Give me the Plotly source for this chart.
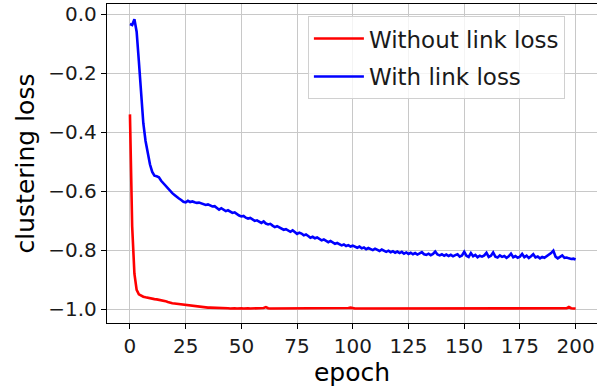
import plotly.graph_objects as go

epochs = list(range(201))

without_link = [
    -0.340, -0.720, -0.880, -0.935, -0.950, -0.955, -0.958, -0.960, -0.962, -0.963,
    -0.964, -0.966, -0.967, -0.968, -0.970, -0.971, -0.973, -0.976, -0.979, -0.980,
    -0.981, -0.982, -0.983, -0.984, -0.984, -0.986, -0.987, -0.988, -0.990, -0.991,
    -0.992, -0.991, -0.993, -0.994, -0.994, -0.995, -0.995, -0.995, -0.996, -0.996,
    -0.997, -0.997, -0.996, -0.997, -0.997, -0.998, -0.997, -0.997, -0.998, -0.997,
    -0.997, -0.998, -0.997, -0.997, -0.998, -0.998, -0.997, -0.998, -0.997, -0.997,
    -0.996, -0.993, -0.997, -0.998, -0.998, -0.997, -0.998, -0.998, -0.997, -0.998,
    -0.998, -0.998, -0.997, -0.998, -0.998, -0.998, -0.997, -0.998, -0.998, -0.998,
    -0.998, -0.997, -0.998, -0.998, -0.998, -0.998, -0.997, -0.998, -0.998, -0.998,
    -0.998, -0.998, -0.997, -0.998, -0.998, -0.998, -0.998, -0.997, -0.996, -0.995,
    -0.997, -0.998, -0.998, -0.998, -0.997, -0.998, -0.998, -0.998, -0.998, -0.998,
    -0.997, -0.998, -0.998, -0.998, -0.998, -0.998, -0.997, -0.998, -0.998, -0.998,
    -0.998, -0.998, -0.998, -0.997, -0.998, -0.998, -0.998, -0.998, -0.998, -0.998,
    -0.997, -0.998, -0.998, -0.998, -0.998, -0.997, -0.998, -0.998, -0.998, -0.998,
    -0.998, -0.998, -0.997, -0.998, -0.998, -0.998, -0.998, -0.998, -0.998, -0.997,
    -0.998, -0.998, -0.998, -0.998, -0.998, -0.998, -0.997, -0.998, -0.998, -0.998,
    -0.998, -0.998, -0.998, -0.998, -0.997, -0.998, -0.998, -0.998, -0.998, -0.998,
    -0.998, -0.997, -0.998, -0.998, -0.998, -0.998, -0.998, -0.998, -0.998, -0.997,
    -0.998, -0.998, -0.998, -0.998, -0.998, -0.998, -0.997, -0.998, -0.998, -0.998,
    -0.998, -0.998, -0.998, -0.997, -0.998, -0.998, -0.997, -0.993, -0.997, -0.998,
    -0.998,
]

with_link = [
    -0.034, -0.037, -0.018, -0.060, -0.160, -0.280, -0.370, -0.430, -0.470, -0.510,
    -0.535, -0.548, -0.550, -0.553, -0.565, -0.574, -0.582, -0.590, -0.598, -0.607,
    -0.613, -0.620, -0.625, -0.630, -0.636, -0.638, -0.633, -0.637, -0.635, -0.638,
    -0.640, -0.639, -0.642, -0.646, -0.647, -0.645, -0.650, -0.652, -0.651, -0.656,
    -0.663, -0.658, -0.664, -0.668, -0.665, -0.671, -0.674, -0.672, -0.679, -0.683,
    -0.686, -0.684, -0.690, -0.693, -0.691, -0.697, -0.701, -0.699, -0.704, -0.708,
    -0.703, -0.710, -0.713, -0.711, -0.717, -0.722, -0.719, -0.723, -0.728, -0.731,
    -0.729, -0.735, -0.738, -0.733, -0.740, -0.745, -0.741, -0.744, -0.750, -0.747,
    -0.752, -0.758, -0.755, -0.760, -0.757, -0.763, -0.767, -0.764, -0.770, -0.773,
    -0.769, -0.775, -0.779, -0.776, -0.780, -0.784, -0.781, -0.786, -0.783, -0.788,
    -0.785, -0.790, -0.792, -0.788, -0.794, -0.791, -0.797, -0.793, -0.796, -0.800,
    -0.795, -0.799, -0.803, -0.798, -0.801, -0.806, -0.802, -0.807, -0.804, -0.809,
    -0.805, -0.810, -0.806, -0.812, -0.808, -0.813, -0.809, -0.814, -0.810, -0.815,
    -0.811, -0.807, -0.814, -0.816, -0.812, -0.817, -0.813, -0.805, -0.815, -0.818,
    -0.814, -0.819, -0.815, -0.820, -0.816, -0.821, -0.817, -0.814, -0.822, -0.818,
    -0.806, -0.819, -0.823, -0.810, -0.821, -0.816, -0.824, -0.819, -0.822, -0.818,
    -0.809, -0.823, -0.819, -0.808, -0.822, -0.825, -0.818, -0.823, -0.820, -0.826,
    -0.821, -0.812, -0.824, -0.820, -0.826, -0.822, -0.813, -0.824, -0.819, -0.827,
    -0.821, -0.814, -0.825, -0.822, -0.828, -0.823, -0.826, -0.821, -0.815, -0.810,
    -0.802, -0.822, -0.828, -0.824, -0.818, -0.826, -0.825, -0.828, -0.830, -0.829,
    -0.832,
]

x_ticks = [0, 25, 50, 75, 100, 125, 150, 175, 200]
y_ticks = [0.0, -0.2, -0.4, -0.6, -0.8, -1.0]

FONT = "DejaVu Sans, sans-serif"

fig = go.Figure()
fig.add_trace(go.Scatter(x=epochs, y=without_link, mode="lines", name="Without link loss",
                         line=dict(color="#ff0000", width=2.6), legendgroup="a"))
fig.add_trace(go.Scatter(x=epochs, y=with_link, mode="lines", name="With link loss",
                         line=dict(color="#0000ff", width=2.6), legendgroup="b"))

fig.update_layout(
    width=597, height=391,
    margin=dict(l=107, r=0, t=4, b=68),
    paper_bgcolor="white", plot_bgcolor="white",
    font=dict(family=FONT, size=20, color="black"),
    showlegend=True,
    legend=dict(x=0.41, y=0.962, xanchor="left", yanchor="top",
                bgcolor="rgba(255,255,255,0.8)", bordercolor="#d0d0d0", borderwidth=1,
                font=dict(family=FONT, size=23, color="#1a1a1a"),
                tracegroupgap=5, itemwidth=50),
    xaxis=dict(range=[-10.3, 209.6], tickvals=x_ticks, ticktext=[str(v) for v in x_ticks],
               showgrid=True, gridcolor="#c8c8c8", gridwidth=1.3,
               showline=True, linecolor="black", linewidth=1.3, mirror=True,
               ticks="outside", ticklen=5, tickcolor="black", zeroline=False,
               tickfont=dict(size=20, color="#1a1a1a"),
               title=dict(text="epoch", font=dict(size=25), standoff=3)),
    yaxis=dict(range=[-1.047, 0.034], tickvals=y_ticks, tickformat=".1f",
               showgrid=True, gridcolor="#c8c8c8", gridwidth=1.3,
               showline=True, linecolor="black", linewidth=1.3, mirror=False,
               ticks="outside", ticklen=5, tickcolor="black", zeroline=False,
               tickfont=dict(size=20, color="#1a1a1a"),
               title=dict(text="clustering loss", font=dict(size=25), standoff=6)),
)

fig.write_html("out.html")
